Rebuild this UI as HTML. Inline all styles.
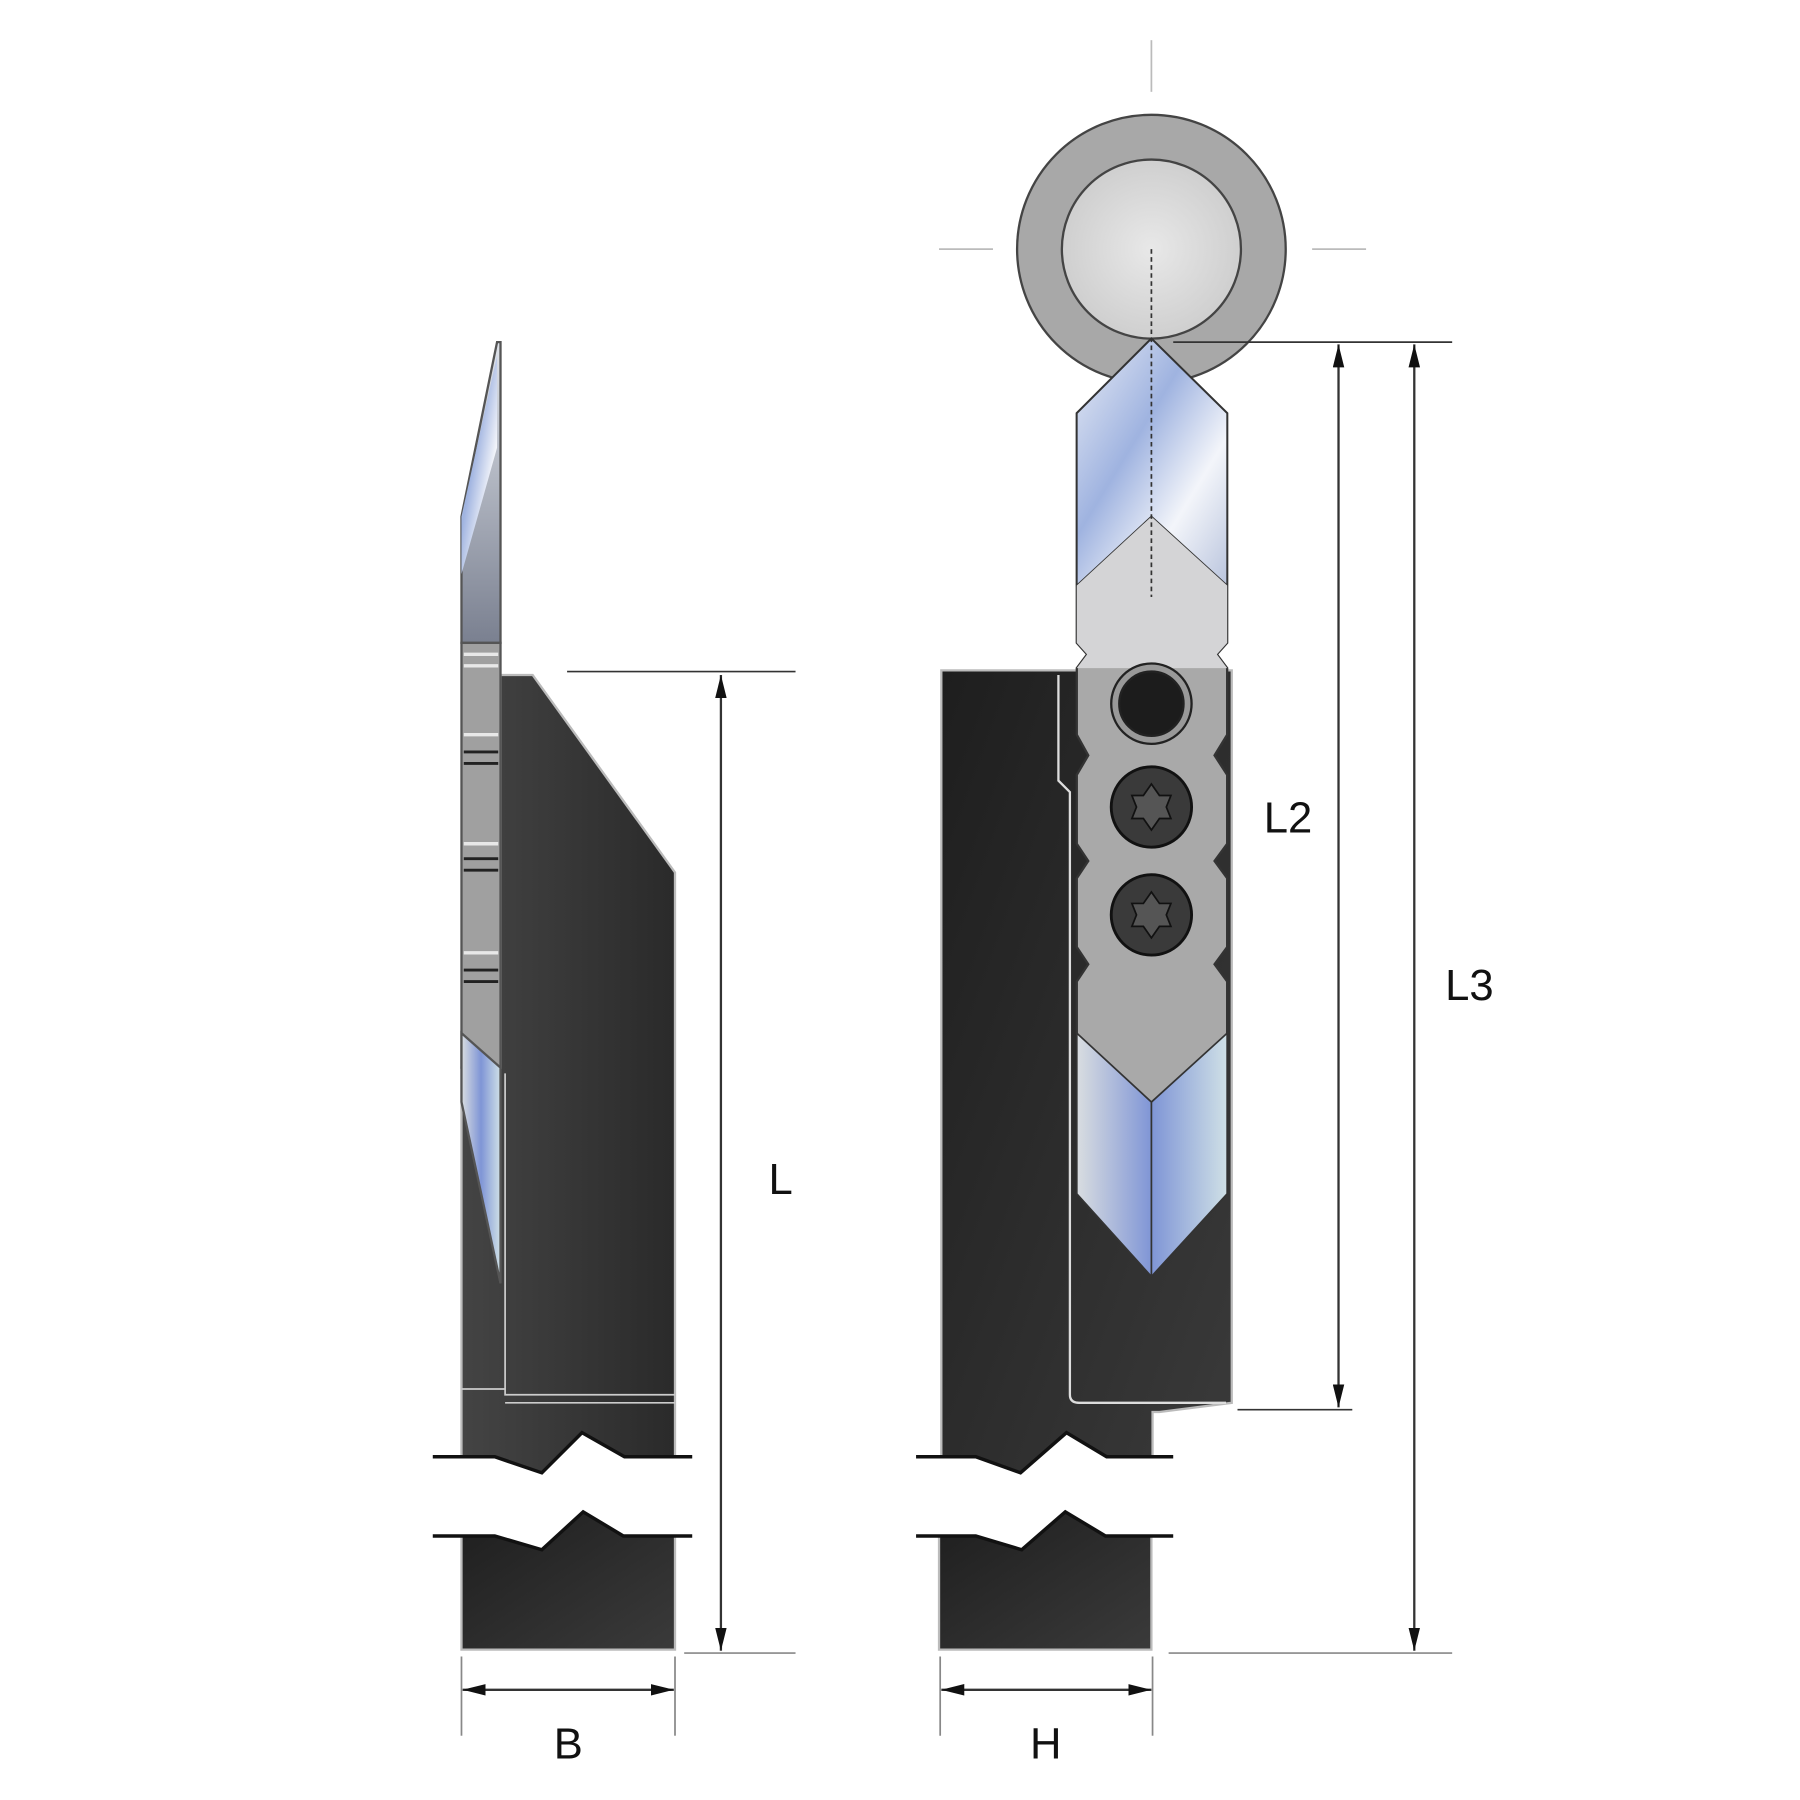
<!DOCTYPE html>
<html><head><meta charset="utf-8"><style>html,body{margin:0;padding:0;background:#fff}svg{display:block}</style></head>
<body>
<svg width="1800" height="1800" viewBox="0 0 1568 1568" xmlns="http://www.w3.org/2000/svg" font-family="Liberation Sans, sans-serif">
<defs>
<linearGradient id="dk" x1="0" y1="0" x2="1" y2="1"><stop offset="0" stop-color="#1e1e1e"/><stop offset="1" stop-color="#3a3a3a"/></linearGradient>
<linearGradient id="dk2" x1="0" y1="0" x2="1" y2="0"><stop offset="0" stop-color="#444"/><stop offset="1" stop-color="#2a2a2a"/></linearGradient>
<linearGradient id="bl" x1="0" y1="0" x2="1" y2="1"><stop offset="0" stop-color="#e8ecf5"/><stop offset="0.4" stop-color="#9fb3e0"/><stop offset="0.7" stop-color="#f3f5fa"/><stop offset="1" stop-color="#b9c4dd"/></linearGradient>
<linearGradient id="bl2" x1="0" y1="0" x2="1" y2="0"><stop offset="0" stop-color="#d9dde0"/><stop offset="0.5" stop-color="#7f95d6"/><stop offset="1" stop-color="#cfe0e6"/></linearGradient>
<linearGradient id="sv" x1="0" y1="0" x2="0" y2="1"><stop offset="0" stop-color="#dfe3ea"/><stop offset="1" stop-color="#7a8090"/></linearGradient>
<radialGradient id="rg" cx="0.5" cy="0.5" r="0.5"><stop offset="0" stop-color="#e8e8e8"/><stop offset="1" stop-color="#cfcfcf"/></radialGradient>
<marker id="ar" viewBox="0 0 20 10" refX="20" refY="5" markerWidth="20" markerHeight="10" markerUnits="userSpaceOnUse" orient="auto"><path d="M0,0L20,5L0,10z" fill="#111"/></marker>
<marker id="as" viewBox="0 0 20 10" refX="0" refY="5" markerWidth="20" markerHeight="10" markerUnits="userSpaceOnUse" orient="auto"><path d="M20,0L0,5L20,10z" fill="#111"/></marker>
</defs>

<!-- LEFT VIEW -->
<path d="M436,588L464,588L588,760L588,1269L544,1269L507,1248L472,1283L431,1269L402,1269L402,930L436,930Z" fill="url(#dk2)" stroke="#bbb" stroke-width="2"/>
<path d="M440,935L440,1215L588,1215M440,1222L588,1222M402,1210L440,1210" stroke="#ccc" stroke-width="1.5" fill="none"/>
<path d="M433,298L436,298L436,560L402,560L402,450Z" fill="url(#sv)" stroke="#555" stroke-width="2"/>
<path d="M433,310L402,450L402,500L433,390Z" fill="url(#bl)"/>
<rect x="402" y="560" width="34" height="370" fill="#a0a0a0" stroke="#555" stroke-width="2"/>
<g stroke="#e8e8e8" stroke-width="3"><line x1="404" y1="640" x2="434" y2="640"/><line x1="404" y1="735" x2="434" y2="735"/><line x1="404" y1="830" x2="434" y2="830"/><line x1="404" y1="570" x2="434" y2="570"/><line x1="404" y1="580" x2="434" y2="580"/></g>
<g stroke="#222" stroke-width="2.5"><line x1="404" y1="655" x2="434" y2="655"/><line x1="404" y1="665" x2="434" y2="665"/><line x1="404" y1="748" x2="434" y2="748"/><line x1="404" y1="758" x2="434" y2="758"/><line x1="404" y1="845" x2="434" y2="845"/><line x1="404" y1="855" x2="434" y2="855"/></g>
<path d="M402,900L436,930L436,1118L402,960Z" fill="url(#bl2)" stroke="#555" stroke-width="2"/>
<path d="M402,1338L431,1338L472,1350L508,1317L543,1338L588,1338L588,1437L402,1437Z" fill="url(#dk)" stroke="#bbb" stroke-width="2"/>
<path d="M377,1269L431,1269L472,1283L507,1248L544,1269L603,1269" stroke="#111" stroke-width="3" fill="none"/>
<path d="M377,1338L431,1338L472,1350L508,1317L543,1338L603,1338" stroke="#111" stroke-width="3" fill="none"/>

<line x1="494" y1="585" x2="693" y2="585" stroke="#333" stroke-width="1.5"/>
<line x1="596" y1="1440" x2="693" y2="1440" stroke="#888" stroke-width="1.5"/>
<line x1="628" y1="588" x2="628" y2="1438" stroke="#333" stroke-width="2" marker-start="url(#as)" marker-end="url(#ar)"/>
<text x="680" y="1040" font-size="38" text-anchor="middle" fill="#111">L</text>
<line x1="402" y1="1443" x2="402" y2="1512" stroke="#888" stroke-width="1.5"/>
<line x1="588" y1="1443" x2="588" y2="1512" stroke="#888" stroke-width="1.5"/>
<line x1="403" y1="1472" x2="587" y2="1472" stroke="#333" stroke-width="2" marker-start="url(#as)" marker-end="url(#ar)"/>
<text x="495" y="1532" font-size="38" text-anchor="middle" fill="#111">B</text>

<!-- RIGHT VIEW -->
<line x1="1003" y1="35" x2="1003" y2="80" stroke="#bbb" stroke-width="1.5"/>
<line x1="818" y1="217" x2="865" y2="217" stroke="#bbb" stroke-width="1.5"/>
<line x1="1143" y1="217" x2="1190" y2="217" stroke="#bbb" stroke-width="1.5"/>
<circle cx="1003" cy="217" r="117" fill="#a8a8a8" stroke="#444" stroke-width="2"/>
<circle cx="1003" cy="217" r="78" fill="url(#rg)" stroke="#444" stroke-width="2"/>
<path d="M820,584L1073,584L1073,1222L1010,1230L1004,1230L1004,1269L964,1269L929,1248L889,1283L850,1269L820,1269Z" fill="url(#dk)" stroke="#bbb" stroke-width="2"/>
<path d="M922,588L922,680L932,690L932,1215Q932,1222 940,1222L1068,1222" stroke="#ddd" stroke-width="2" fill="none"/>
<path d="M938,930L1069,930" stroke="#ddd" stroke-width="2"/>
<path d="M1003,295L1069,360L1069,560L1060,570L1069,582L1069,640L1058,658L1069,675L1069,735L1058,750L1069,765L1069,825L1058,840L1069,855L1069,900L1003,1112L938,900L938,855L948,840L938,825L938,765L948,750L938,735L938,675L948,658L938,640L938,582L947,570L938,560L938,360Z" fill="#a9a9a9" stroke="#333" stroke-width="2"/>
<path d="M1003,295L1069,360L1069,510L1003,450L938,510L938,360Z" fill="url(#bl)" stroke="#333" stroke-width="1.5"/>
<path d="M938,510L1003,450L1069,510L1069,560L1060,570L1069,582L938,582L947,570L938,560Z" fill="#d4d4d6"/>
<path d="M938,900L1003,960L1069,900L1069,1040L1003,1112L938,1040Z" fill="url(#bl2)" stroke="#333" stroke-width="1.5"/>
<line x1="1003" y1="960" x2="1003" y2="1112" stroke="#333" stroke-width="1.5"/>
<line x1="1003" y1="217" x2="1003" y2="520" stroke="#333" stroke-width="1.5" stroke-dasharray="4,3"/>
<circle cx="1003" cy="613" r="35" fill="#999" stroke="#222" stroke-width="2"/>
<circle cx="1003" cy="613" r="28" fill="#1c1c1c" stroke="#222" stroke-width="2"/>
<circle cx="1003" cy="703" r="35" fill="#3a3a3a" stroke="#111" stroke-width="2.5"/>
<circle cx="1003" cy="797" r="35" fill="#3a3a3a" stroke="#111" stroke-width="2.5"/>
<path d="M1003,683L1010,693L1020,693L1016,703L1020,713L1010,713L1003,723L996,713L986,713L990,703L986,693L996,693Z" fill="#555" stroke="#111" stroke-width="1.5"/>
<path d="M1003,777L1010,787L1020,787L1016,797L1020,807L1010,807L1003,817L996,807L986,807L990,797L986,787L996,787Z" fill="#555" stroke="#111" stroke-width="1.5"/>
<path d="M818,1338L850,1338L890,1350L928,1317L963,1338L1003,1338L1003,1437L818,1437Z" fill="url(#dk)" stroke="#bbb" stroke-width="2"/>
<path d="M798,1269L850,1269L889,1283L929,1248L964,1269L1022,1269" stroke="#111" stroke-width="3" fill="none"/>
<path d="M798,1338L850,1338L890,1350L928,1317L963,1338L1022,1338" stroke="#111" stroke-width="3" fill="none"/>
<line x1="1022" y1="298" x2="1265" y2="298" stroke="#333" stroke-width="1.5"/>
<line x1="1078" y1="1228" x2="1178" y2="1228" stroke="#333" stroke-width="1.5"/>
<line x1="1166" y1="300" x2="1166" y2="1226" stroke="#333" stroke-width="2" marker-start="url(#as)" marker-end="url(#ar)"/>
<text x="1122" y="725" font-size="38" text-anchor="middle" fill="#111">L2</text>
<line x1="1018" y1="1440" x2="1265" y2="1440" stroke="#888" stroke-width="1.5"/>
<line x1="1232" y1="300" x2="1232" y2="1438" stroke="#333" stroke-width="2" marker-start="url(#as)" marker-end="url(#ar)"/>
<text x="1280" y="871" font-size="38" text-anchor="middle" fill="#111">L3</text>
<line x1="819" y1="1443" x2="819" y2="1512" stroke="#888" stroke-width="1.5"/>
<line x1="1004" y1="1443" x2="1004" y2="1512" stroke="#888" stroke-width="1.5"/>
<line x1="820" y1="1472" x2="1003" y2="1472" stroke="#333" stroke-width="2" marker-start="url(#as)" marker-end="url(#ar)"/>
<text x="911" y="1532" font-size="38" text-anchor="middle" fill="#111">H</text>
</svg>
</body></html>
